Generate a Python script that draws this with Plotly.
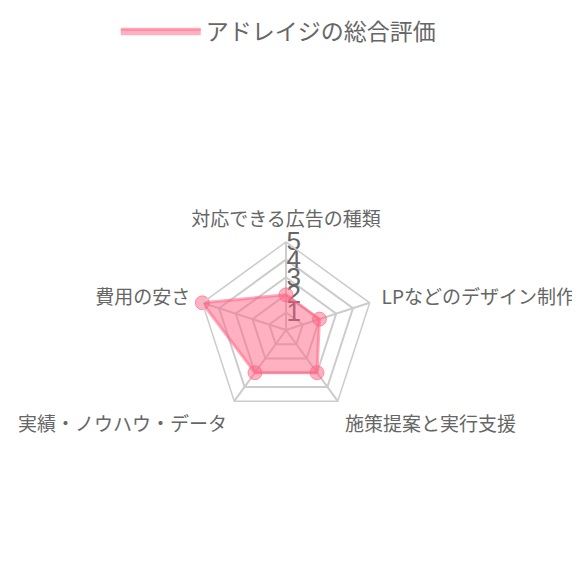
import plotly.graph_objects as go

categories = ["対応できる広告の種類", "LPなどのデザイン制作", "施策提案と実行支援", "実績・ノウハウ・データ", "費用の安さ"]
values = [2, 2, 3, 3, 5]
series_name = "アドレイジの総合評価"
tick_vals = [1, 2, 3, 4, 5]

W = H = 580
cx, cy, R = 278, 322, 88

r_closed = values + values[:1]
t_closed = categories + categories[:1]

fig = go.Figure()
fig.add_trace(go.Scatterpolar(
    r=r_closed, theta=t_closed,
    mode="lines", fill="toself", name=series_name,
    line=dict(color="rgba(255,99,132,0.55)", width=3),
    fillcolor="rgba(255,99,132,0.5)",
))
fig.add_trace(go.Scatterpolar(
    r=values, theta=categories,
    mode="markers", name=series_name, showlegend=False,
    marker=dict(size=14, color="rgba(255,99,132,0.5)", line=dict(color="rgba(255,99,132,0.6)", width=1)),
))

fig.update_layout(
    width=W, height=H,
    margin=dict(l=0, r=0, t=0, b=0),
    paper_bgcolor="white",
    font=dict(family="Noto Sans CJK JP, sans-serif", color="#666"),
    showlegend=True,
    legend=dict(orientation="h", x=0.466, xanchor="center", y=0.997, yanchor="top",
                font=dict(size=23, color="#666"), itemwidth=80),
    polar=dict(
        domain=dict(x=[(cx - R) / W, (cx + R) / W], y=[(H - cy - R) / H, (H - cy + R) / H]),
        bgcolor="white",
        gridshape="linear",
        angularaxis=dict(direction="clockwise", rotation=90, tickfont=dict(size=19, color="#666"),
                         gridcolor="#cccccc", linecolor="#cccccc", showline=True, gridwidth=1.5, linewidth=1.5,
                         ticks="outside", ticklen=8, tickcolor="rgba(0,0,0,0)"),
        radialaxis=dict(range=[0, 5], tickvals=tick_vals, angle=90, tickangle=90,
                        tickfont=dict(size=26, color="#666", family="Liberation Sans, Arial, sans-serif"),
                        showline=False,
                        gridcolor="#cccccc", gridwidth=1.5, layer="below traces", ticks=""),
    ),
)

fig.write_html("out.html")
